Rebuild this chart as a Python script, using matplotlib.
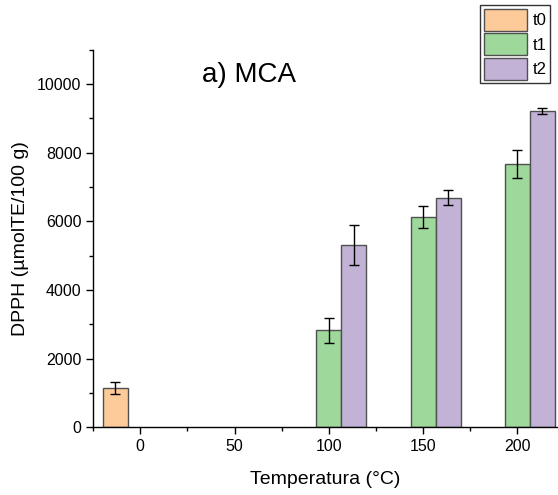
import numpy as np
import matplotlib.pyplot as plt
from matplotlib.ticker import MultipleLocator

plt.rcParams['font.family'] = ['Liberation Sans', 'DejaVu Sans']

# temperatures (°C) and DPPH values per time point
temps = np.array([0, 50, 100, 150, 200])
t0 = np.array([1140, np.nan, np.nan, np.nan, np.nan])
t0_err = np.array([180, np.nan, np.nan, np.nan, np.nan])
t1 = np.array([np.nan, np.nan, 2820, 6110, 7670])
t1_err = np.array([np.nan, np.nan, 370, 320, 400])
t2 = np.array([np.nan, np.nan, 5310, 6680, 9210])
t2_err = np.array([np.nan, np.nan, 590, 220, 90])

series = [("t0", t0, t0_err, "#FDCA99"),
          ("t1", t1, t1_err, "#9ED89B"),
          ("t2", t2, t2_err, "#C2B2D6")]

fig = plt.figure(figsize=(5.58, 4.95), dpi=100)
ax = fig.add_axes([0.167, 0.137, 0.831, 0.763])

width = 13.3
for i, (name, vals, errs, col) in enumerate(series):
    xpos = temps + (i - 1) * width
    ax.bar(xpos, vals, width=width, color=col, edgecolor="#505050",
           linewidth=1.0, label=name, zorder=2)
    ax.errorbar(xpos, vals, yerr=errs, fmt="none", ecolor="black",
                elinewidth=1.0, capsize=3.5, capthick=1.0, zorder=3)

ax.set_xlim(-25, 221)
ax.set_ylim(0, 11000)
ax.set_xticks([0, 50, 100, 150, 200])
ax.xaxis.set_minor_locator(MultipleLocator(25))
ax.set_yticks([0, 2000, 4000, 6000, 8000, 10000])
ax.yaxis.set_minor_locator(MultipleLocator(1000))
ax.tick_params(which="major", direction="out", length=5, width=1, labelsize=11.5)
ax.tick_params(which="minor", direction="out", length=3, width=1)

ax.spines["top"].set_visible(False)
ax.spines["right"].set_visible(False)
for s in ["left", "bottom"]:
    ax.spines[s].set_linewidth(1.0)

ax.set_xlabel("Temperatura (°C)", fontsize=14, labelpad=12)
ax.set_ylabel("DPPH (µmolTE/100 g)", fontsize=14, labelpad=6)

ax.text(0.336, 0.932, "a) MCA", transform=ax.transAxes, fontsize=20,
        ha="center", va="center")

leg = fig.legend(loc="lower right", bbox_to_anchor=(550 / 558, 1 - 83 / 495),
                 fontsize=12, frameon=True, fancybox=False, edgecolor="black",
                 handlelength=2.6, handleheight=1.65, labelspacing=0.15,
                 handletextpad=0.35, borderpad=0.2, borderaxespad=0.0)
leg.get_frame().set_linewidth(1.0)

fig.savefig("out.png", dpi=100)
